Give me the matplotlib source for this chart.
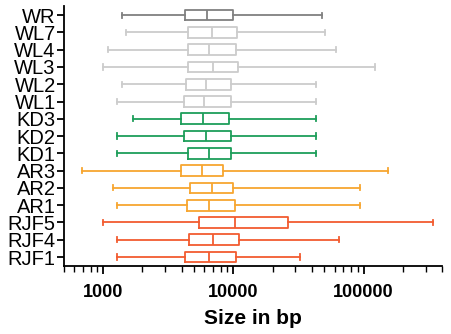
import numpy as np
import matplotlib.pyplot as plt
from matplotlib.ticker import LogLocator, NullFormatter, FixedLocator

plt.rcParams['font.family'] = ['Liberation Sans', 'DejaVu Sans']

# samples, bottom to top
labels = ['RJF1', 'RJF4', 'RJF5', 'AR1', 'AR2', 'AR3', 'KD1', 'KD2', 'KD3',
          'WL1', 'WL2', 'WL3', 'WL4', 'WL7', 'WR']
whislo = [1280, 1280, 1000, 1280, 1190, 690, 1280, 1280, 1680,
          1280, 1390, 1000, 1090, 1490, 1390]
q1 = [4250, 4580, 5420, 4380, 4680, 3950, 4480, 4170, 3980,
      4170, 4350, 4480, 4480, 4480, 4250]
med = [6550, 7030, 10330, 6550, 6850, 5710, 6470, 6210, 5850,
       5960, 6160, 6980, 6470, 6900, 6290]
q3 = [10520, 11100, 26200, 10330, 9960, 8340, 9510, 9670, 9220,
      9620, 9620, 10770, 10520, 10640, 9960]
whishi = [32700, 64800, 341000, 94200, 93500, 154000, 43300, 43300, 43300,
          43300, 43300, 121600, 61900, 50600, 48200]
groups = ['RJF'] * 3 + ['AR'] * 3 + ['KD'] * 3 + ['WL'] * 5 + ['WR']
group_colors = {'RJF': '#f25c30', 'AR': '#f7a630', 'KD': '#1e9e5a',
                'WL': '#cccccc', 'WR': '#808080'}

fig = plt.figure(figsize=(4.52, 3.34), dpi=100)
ax = fig.add_axes([0.1416, 0.2036, 0.836, 0.778])

for i, lab in enumerate(labels):
    c = group_colors[groups[i]]
    stats = [dict(label=lab, whislo=whislo[i], q1=q1[i], med=med[i],
                  q3=q3[i], whishi=whishi[i], fliers=[])]
    ax.bxp(stats, positions=[i + 1], widths=0.62, vert=False,
           showfliers=False, manage_ticks=False,
           boxprops=dict(color=c, linewidth=1.3),
           medianprops=dict(color=c, linewidth=1.3),
           whiskerprops=dict(color=c, linewidth=1.3),
           capprops=dict(color=c, linewidth=1.3),
           capwidths=0.3)

ax.set_xscale('log')
ax.set_xlim(500, 400000)
ax.set_ylim(0.48, len(labels) + 0.52)
ax.set_yticks(np.arange(1, len(labels) + 1))
ax.set_yticklabels(labels, fontsize=14.5)

ax.xaxis.set_major_locator(FixedLocator([1000, 10000, 100000]))
ax.xaxis.set_minor_locator(LogLocator(base=10, subs=np.arange(2, 10), numticks=20))
ax.xaxis.set_minor_formatter(NullFormatter())
ax.set_xticklabels(['1000', '10000', '100000'], fontsize=13, fontweight='bold')
ax.set_xlabel('Size in bp', fontsize=15, fontweight='bold', labelpad=6)

for s in ['top', 'right']:
    ax.spines[s].set_visible(False)
for s in ['left', 'bottom']:
    ax.spines[s].set_linewidth(1.3)
ax.tick_params(axis='y', length=5, width=1.3, pad=1)
ax.tick_params(axis='x', which='major', length=6, width=1.3, pad=7)
ax.tick_params(axis='x', which='minor', length=4, width=1.0)

fig.savefig('out.png', dpi=100)
